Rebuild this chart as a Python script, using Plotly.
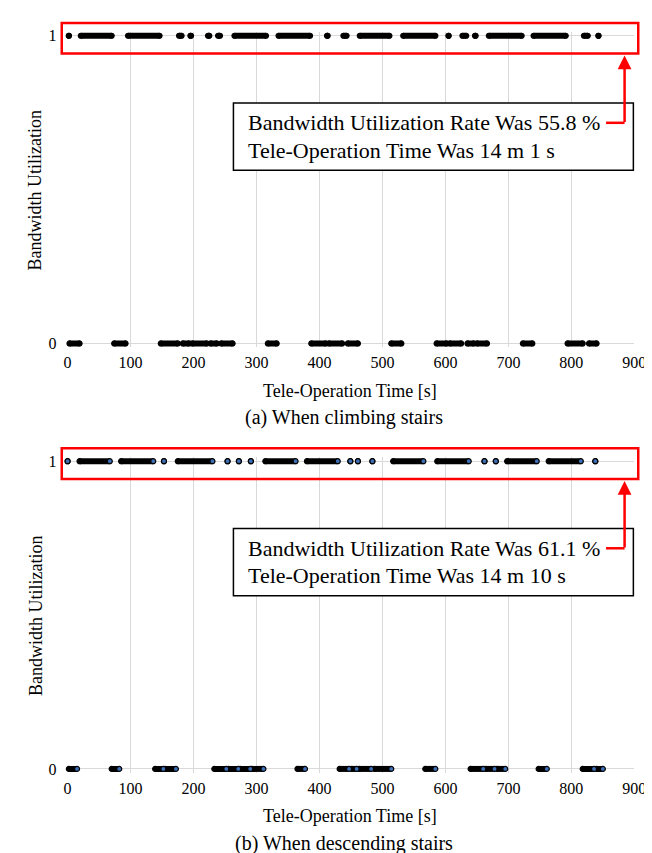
import plotly.graph_objects as go

W, H = 652, 853
FONT = "Liberation Serif, Times New Roman, serif"

# ---- Data: runs of consecutive seconds (start, end) with utilization 1 or 0 ----
# (a) When climbing stairs
a_on_start = [2, 21, 96, 177, 195, 223, 239, 265, 335, 412, 438, 464, 533, 605, 627, 647, 669, 740, 820, 843]
a_on_end = [2, 70, 146, 181, 196, 225, 242, 315, 385, 413, 443, 511, 584, 605, 633, 648, 721, 791, 826, 843]
a_off_start = [3, 74, 148, 183, 198, 227, 244, 318, 387, 415, 445, 514, 586, 607, 635, 650, 723, 794, 828]
a_off_end = [19, 92, 175, 193, 221, 237, 262, 332, 410, 436, 461, 530, 602, 625, 645, 666, 738, 818, 840]

# (b) When descending stairs
b_on_start = [0, 19, 85, 153, 175, 254, 272, 291, 314, 380, 449, 461, 484, 517, 587, 662, 680, 698, 764, 838]
b_on_end = [0, 67, 136, 153, 230, 254, 272, 291, 362, 429, 449, 461, 484, 565, 637, 662, 680, 745, 815, 838]
b_off_start = [2, 70, 139, 155, 233, 256, 274, 293, 365, 432, 451, 463, 487, 568, 640, 664, 682, 748, 818, 840]
b_off_end = [15, 82, 152, 172, 252, 271, 290, 311, 377, 447, 459, 482, 514, 584, 660, 678, 695, 761, 836, 850]

x_ticks = [0, 100, 200, 300, 400, 500, 600, 700, 800, 900]
y_ticks = [0, 1]

a_text = ["Bandwidth Utilization Rate Was 55.8 %", "Tele-Operation Time Was 14 m 1 s"]
b_text = ["Bandwidth Utilization Rate Was 61.1 %", "Tele-Operation Time Was 14 m 10 s"]
a_caption = "(a) When climbing stairs"
b_caption = "(b) When descending stairs"
x_title = "Tele-Operation Time [s]"
y_title = "Bandwidth Utilization"


def px(x):
    return x / W


def py(y):
    return 1 - y / H


def runs(starts, ends, val):
    xs, ys = [], []
    for s, e in zip(starts, ends):
        xs += [s, e, None]
        ys += [val, val, None]
    return xs, ys


fig = go.Figure()

panels = [
    ("x", "y", a_on_start, a_on_end, a_off_start, a_off_end, "black"),
    ("x2", "y2", b_on_start, b_on_end, b_off_start, b_off_end, "#3d6fb6"),
]
for xa, ya, ons, one, offs, offe, endc in panels:
    for st, en, v in [(ons, one, 1), (offs, offe, 0)]:
        xs, ys = runs(st, en, v)
        # thick bar for each run
        fig.add_trace(go.Scatter(
            x=xs, y=ys, xaxis=xa, yaxis=ya, mode="lines",
            line=dict(color="black", width=6),
            cliponaxis=False, showlegend=False, hoverinfo="skip"))
        # round ends of each run
        fig.add_trace(go.Scatter(
            x=st, y=[v] * len(st), xaxis=xa, yaxis=ya, mode="markers",
            marker=dict(size=5, color="black", line=dict(color="black", width=1.2)),
            cliponaxis=False, showlegend=False, hoverinfo="skip"))
        fig.add_trace(go.Scatter(
            x=en, y=[v] * len(en), xaxis=xa, yaxis=ya, mode="markers",
            marker=dict(size=5, color=endc, line=dict(color="black", width=1.2)),
            cliponaxis=False, showlegend=False, hoverinfo="skip"))

# panel geometry (pixels from top): rows y=1 and y=0
X0, X1 = 57, 638
row1_px = [24, 454]
row0_px = [335, 765]
PAD = 4  # px of extra plot area so the thick run bars are not clipped
span = row0_px[0] - row1_px[0]
dy = PAD / span
y_range = [-dy, 1 + dy]

axis_common = dict(showgrid=True, gridcolor="#d9d9d9", gridwidth=1, zeroline=False,
                   showline=False, ticks="", tickfont=dict(family=FONT, size=16, color="black"))

fig.update_layout(
    width=W, height=H, margin=dict(l=0, r=0, t=0, b=0),
    paper_bgcolor="white", plot_bgcolor="white",
    xaxis=dict(domain=[px(X0), px(X1)], range=[0, 900], tickvals=x_ticks, anchor="y",
               ticklabelstandoff=4, **axis_common),
    yaxis=dict(domain=[py(row0_px[0] + PAD), py(row1_px[0] - PAD)], range=y_range, tickvals=y_ticks,
               anchor="x", ticklabelstandoff=10, **axis_common),
    xaxis2=dict(domain=[px(X0), px(X1)], range=[0, 900], tickvals=x_ticks, anchor="y2",
                ticklabelstandoff=4, **axis_common),
    yaxis2=dict(domain=[py(row0_px[1] + PAD), py(row1_px[1] - PAD)], range=y_range, tickvals=y_ticks,
                anchor="x2", ticklabelstandoff=10, **axis_common),
)

shapes = []
annotations = []
for k, (texts, cap) in enumerate([(a_text, a_caption), (b_text, b_caption)]):
    off = 430 * k
    # red highlight rectangle around the 1-row
    shapes.append(dict(type="rect", xref="paper", yref="paper",
                       x0=px(51), x1=px(642), y0=py(42 + off), y1=py(11 + off),
                       line=dict(color="#ff0000", width=2.5)))
    # text box
    shapes.append(dict(type="rect", xref="paper", yref="paper",
                       x0=px(227), x1=px(637), y0=py(160 + off), y1=py(92 + off),
                       line=dict(color="black", width=1.5), fillcolor="white"))
    # horizontal red connector
    shapes.append(dict(type="line", xref="paper", yref="paper",
                       x0=px(609), x1=px(628), y0=py(112 + off), y1=py(112 + off),
                       line=dict(color="#ff0000", width=2.5)))
    # arrow up to the red rectangle
    annotations.append(dict(xref="paper", yref="paper", x=px(628), y=py(44 + off),
                            ax=0, ay=68, text="", showarrow=True, arrowhead=2,
                            arrowsize=1.1, arrowwidth=2.5, arrowcolor="#ff0000", standoff=0))
    for i, t in enumerate(texts):
        annotations.append(dict(xref="paper", yref="paper", x=px(240), y=py(112 + 28 * i + off),
                                xanchor="left", yanchor="middle", text=t, showarrow=False,
                                font=dict(family=FONT, size=22, color="black")))
    # y-axis title
    annotations.append(dict(xref="paper", yref="paper", x=px(24), y=py(180 + off),
                            xanchor="center", yanchor="middle", text=y_title, textangle=-90,
                            showarrow=False, font=dict(family=FONT, size=18, color="black")))
    # x-axis title
    annotations.append(dict(xref="paper", yref="paper", x=px(347), y=py(383 + off),
                            xanchor="center", yanchor="middle", text=x_title,
                            showarrow=False, font=dict(family=FONT, size=18, color="black")))
    # caption
    annotations.append(dict(xref="paper", yref="paper", x=px(340), y=py(410 + off),
                            xanchor="center", yanchor="middle", text=cap,
                            showarrow=False, font=dict(family=FONT, size=20, color="black")))

fig.update_layout(shapes=shapes, annotations=annotations)
fig.write_html("out.html")
